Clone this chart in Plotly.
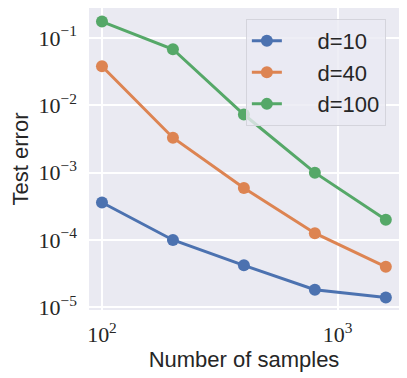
import plotly.graph_objects as go

# number of samples
samples = [100, 200, 400, 800, 1600]

err_d10 = [3.6e-4, 1.0e-4, 4.2e-5, 1.82e-5, 1.4e-5]
err_d40 = [3.8e-2, 3.3e-3, 5.9e-4, 1.26e-4, 4.0e-5]
err_d100 = [1.75e-1, 6.8e-2, 7.3e-3, 1.0e-3, 2.0e-4]

series_names = ["d=10", "d=40", "d=100"]
series_vals = [err_d10, err_d40, err_d100]
colors = ["#4C72B0", "#DD8452", "#55A868"]  # seaborn deep

y_tickvals = [1e-5, 1e-4, 1e-3, 1e-2, 1e-1]
y_ticktext = ["10<sup>−5</sup>", "10<sup>−4</sup>", "10<sup>−3</sup>", "10<sup>−2</sup>", "10<sup>−1</sup>"]
x_tickvals = [100, 1000]
x_ticktext = ["10<sup>2</sup>", "10<sup>3</sup>"]

fig = go.Figure()
for name, vals, c in zip(series_names, series_vals, colors):
    fig.add_trace(
        go.Scatter(
            x=samples,
            y=vals,
            # pad the label so the text sits further from the legend sample line
            name="\u00a0" * 5 + name,
            mode="lines+markers",
            line=dict(color=c, width=3),
            marker=dict(color=c, size=12),
        )
    )

serif = dict(family="Liberation Serif, DejaVu Serif, serif", size=22, color="#262626")
sans = dict(family="Liberation Sans, Arial, DejaVu Sans, sans-serif", size=22, color="#262626")

# page body keeps its default 8px margin, so the figure is sized to fit the window
fig.update_layout(
    width=399,
    height=370,
    margin=dict(l=81, r=8, t=0, b=68),
    paper_bgcolor="white",
    plot_bgcolor="#EAEAF2",
    font=sans,
    legend=dict(
        x=0.506,
        y=0.964,
        xanchor="left",
        yanchor="top",
        bgcolor="rgba(234,234,242,0.8)",
        bordercolor="#D4D4DC",
        borderwidth=1,
        font=sans,
        tracegroupgap=0,
    ),
)
fig.update_xaxes(
    type="log",
    range=[1.945, 3.26],
    tickvals=x_tickvals,
    ticktext=x_ticktext,
    tickfont=serif,
    ticklabelstandoff=9,
    showgrid=True,
    gridcolor="white",
    gridwidth=1.5,
    zeroline=False,
    showline=False,
    ticks="",
    automargin=False,
    title=dict(text="Number of samples", font=sans, standoff=4),
)
fig.update_yaxes(
    type="log",
    range=[-5.04, -0.555],
    tickvals=y_tickvals,
    ticktext=y_ticktext,
    tickfont=serif,
    ticklabelstandoff=11,
    showgrid=True,
    gridcolor="white",
    gridwidth=1.5,
    zeroline=False,
    showline=False,
    ticks="",
    automargin=False,
    title=dict(text="Test error", font=sans, standoff=9),
)

fig.write_html("out.html")
